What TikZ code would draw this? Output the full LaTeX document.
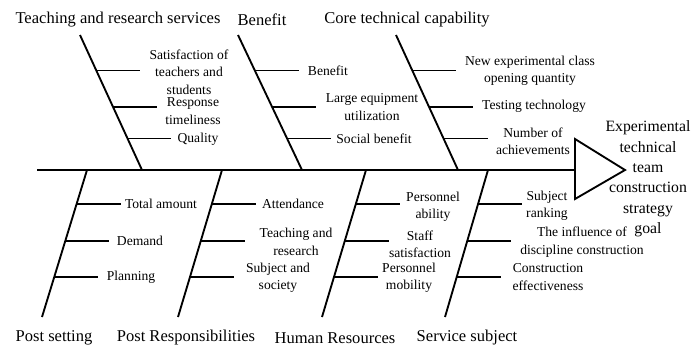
\documentclass[tikz,border=0pt]{standalone}
\usepackage{fontspec}
\setmainfont{Liberation Serif}
\usetikzlibrary{calc}
\tikzset{
  bone/.style={line width=1.4pt},
  twig/.style={line width=1pt},
  cat/.style={font=\fontsize{12.4}{14}\selectfont, inner sep=0pt},
  cause/.style={font=\fontsize{10.2}{13}\selectfont, align=center, inner sep=0pt},
  goal/.style={font=\fontsize{11.8}{15.3}\selectfont, align=center, inner sep=0pt}
}

\begin{document}
\begin{tikzpicture}[x=0.75pt,y=-0.75pt]
  \useasboundingbox (0,0) rectangle (695,347);

  % spine and arrow head
  \coordinate (tail) at (37,170);
  \coordinate (headL) at (575,170);
  \draw[bone] (tail) -- (headL);
  \draw[bone, line join=miter] (575,139) -- (625,170) -- (575,199) -- cycle;
  \node[goal] (goal) at (648,179) {Experimental\\technical\\team\\construction\\strategy\\goal};

  % upper bones
  \foreach \n/\tx/\bx in {1/80/142, 2/238/302, 3/396/458} {
    \coordinate (u\n-top) at (\tx,35);
    \coordinate (u\n-end) at (\bx,170);
    \draw[bone] (u\n-top) -- (u\n-end);
    \foreach \f in {0.264,0.533,0.766}
      \draw[twig] ($(u\n-top)!\f!(u\n-end)$) -- ++(44,0);
  }

  % lower bones
  \foreach \n/\tx/\bx in {4/87/42, 5/222/178, 6/366/322, 7/488/445} {
    \coordinate (l\n-top) at (\tx,170);
    \coordinate (l\n-end) at (\bx,317);
    \draw[bone] (l\n-top) -- (l\n-end);
    \foreach \f in {0.231,0.483,0.728}
      \draw[twig] ($(l\n-top)!\f!(l\n-end)$) -- ++(44,0);
  }

  % categories
  \node[cat] (cat-tr)   at (118,20)  {Teaching and research services};
  \node[cat] (cat-ben)  at (262,20)  {Benefit};
  \node[cat] (cat-core) at (407,20)  {Core technical capability};
  \node[cat] (cat-post) at (54,338)  {Post setting};
  \node[cat] (cat-resp) at (186,338) {Post Responsibilities};
  \node[cat] (cat-hr)   at (335,338) {Human Resources};
  \node[cat] (cat-svc)  at (467,338) {Service subject};

  % causes, top
  \node[cause] (c11) at (189,72)  {Satisfaction of\\teachers and\\students};
  \node[cause] (c12) at (193,111) {Response\\timeliness};
  \node[cause] (c13) at (198,139) {Quality};
  \node[cause] (c21) at (328,71)  {Benefit};
  \node[cause] (c22) at (372,107) {Large equipment\\utilization};
  \node[cause] (c23) at (374,139) {Social benefit};
  \node[cause] (c31) at (530,71)  {New experimental class\\opening quantity};
  \node[cause] (c32) at (534,106) {Testing technology};
  \node[cause] (c33) at (533,141) {Number of\\achievements};

  % causes, bottom
  \node[cause] (c41) at (161,204) {Total amount};
  \node[cause] (c42) at (140,241) {Demand};
  \node[cause] (c43) at (131,277) {Planning};
  \node[cause] (c51) at (293,204) {Attendance};
  \node[cause] (c52) at (296,242) {Teaching and\\research};
  \node[cause] (c53) at (278,278) {Subject and\\society};
  \node[cause] (c61) at (433,207) {Personnel\\ability};
  \node[cause] (c62) at (420,244) {Staff\\satisfaction};
  \node[cause] (c63) at (409,278) {Personnel\\mobility};
  \node[cause] (c71) at (547,206) {Subject\\ranking};
  \node[cause] (c72) at (582,242) {The influence of\\discipline construction};
  \node[cause] (c73) at (548,277) {Construction\\effectiveness};
\end{tikzpicture}
\end{document}
